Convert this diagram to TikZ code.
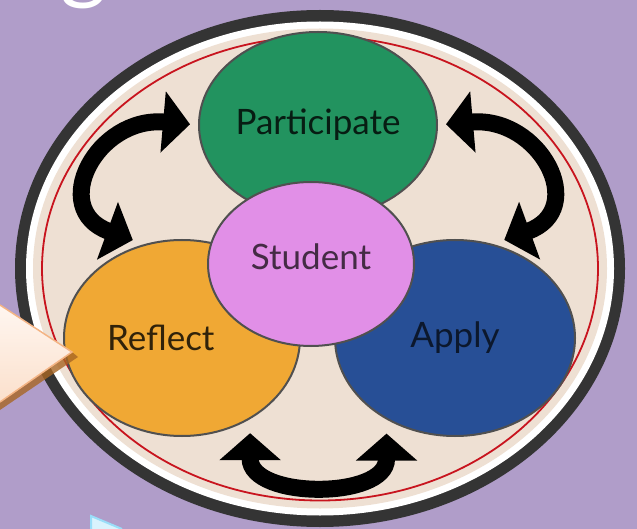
\documentclass[tikz,border=0pt]{standalone}
\usepackage{fontspec}
\setmainfont{Lato}
\usetikzlibrary{positioning,shapes.geometric,arrows.meta}

\definecolor{bgpurple}{RGB}{176,157,201}
\definecolor{ringdark}{RGB}{52,52,52}
\definecolor{ringred}{RGB}{200,20,30}
\definecolor{innerbeige}{RGB}{238,224,211}
\definecolor{partgreen}{RGB}{34,147,95}
\definecolor{studpink}{RGB}{225,143,231}
\definecolor{reflorange}{RGB}{240,168,52}
\definecolor{applblue}{RGB}{39,79,150}
\definecolor{edgegray}{RGB}{80,80,80}
\definecolor{calloutlight}{RGB}{255,246,240}
\definecolor{calloutdark}{RGB}{251,224,204}
\definecolor{calloutedge}{RGB}{244,180,132}

\tikzset{
  stage/.style={ellipse,draw=edgegray,line width=2pt,inner sep=0pt,
    font=\fontsize{35}{35}\selectfont},
  cyclearrow/.style={line width=17pt,
    {Triangle[width=60pt,length=27pt]}-{Triangle[width=60pt,length=27pt]}}
}

\begin{document}
\begin{tikzpicture}[x=1pt,y=-1pt]
    \fill[bgpurple] (0,0) rectangle (637,529);
    \useasboundingbox (0,0) rectangle (637,529);
    \node[text=white,font=\fontsize{90}{90}\selectfont,anchor=base] (titleg) at (84,-7) {g};
    \fill[ringdark] (320,268.5) ellipse [x radius=305, y radius=258.5];
    \fill[white] (320,268.5) ellipse [x radius=294, y radius=247];
    \fill[innerbeige] (320,268.5) ellipse [x radius=287, y radius=240];
    \draw[ringred,line width=1.8pt] (320,268.5) ellipse [x radius=278, y radius=232];
    \begin{scope}[every node/.style={stage}]
      \node (participate) [fill=partgreen,text=black!80!partgreen,
        minimum width=238pt,minimum height=186pt] at (318,125) {Participate};
      \node (reflect) [fill=reflorange,text=black!80!reflorange,
        minimum width=236pt,minimum height=196pt,
        text width=150pt,align=flush left] at (182,338) {Reflect};
      \node (apply) [fill=applblue,text=black!70!applblue,
        minimum width=240pt,minimum height=196pt] at (455,338) {Apply};
      \node (student) [fill=studpink,text=black!70!studpink,
        minimum width=206pt,minimum height=164pt,
        text depth=14pt] at (311,264) {Student};
    \end{scope}
    \begin{scope}[black]
      \draw[cyclearrow,shorten <=8pt,shorten >=12pt]
        (participate.west) to[out=175,in=160,looseness=2] (reflect.112);
      \draw[cyclearrow,shorten <=8pt,shorten >=12pt]
        (participate.east) to[out=5,in=20,looseness=2] (apply.68);
      \draw[cyclearrow,shorten <=14pt,shorten >=14pt]
        (reflect.-50) to[out=-90,in=-90,looseness=1.5] (apply.-130);
    \end{scope}
    \fill[brown!70!orange!80!black,opacity=0.8] (72,352) -- (0,402) -- (0,410) -- (78,357) -- cycle;
    \shade[top color=calloutlight,bottom color=calloutdark] (0,305) -- (72,352) -- (0,402) -- cycle;
    \draw[calloutedge,line width=1.5pt] (0,305) -- (72,352) -- (0,402);
    \fill[white!85!cyan] (91,516) -- (122,529) -- (91,529) -- cycle;
    \draw[cyan!40!white,line width=2pt] (91,529) -- (91,516) -- (122,529);
\end{tikzpicture}
\end{document}
